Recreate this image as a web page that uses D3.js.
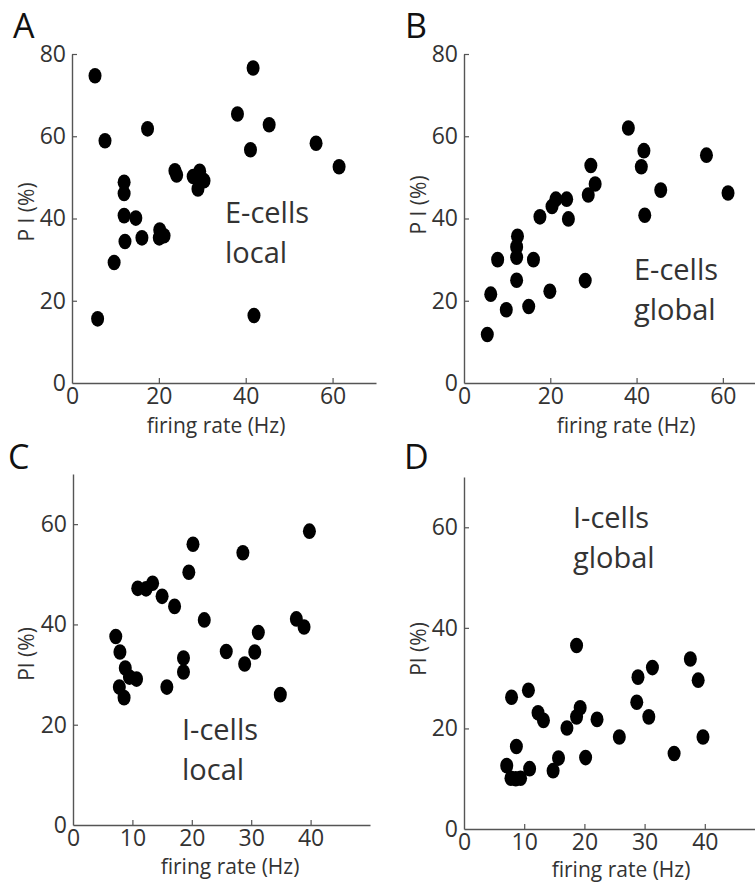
<!DOCTYPE html>
<html>
<head>
<meta charset="utf-8">
<script src="https://cdn.jsdelivr.net/npm/d3@7"></script>
<style>
  body { margin: 0; background: #fff; }
  svg { display: block; font-family: "Open Sans", "Noto Sans", sans-serif; }
</style>
</head>
<body>
<div id="chart"></div>
<script>
// firing rate (Hz), PI (%)
const eCellsLocal = [
    [5.3, 74.7], [7.6, 58.9], [5.9, 15.6], [9.7, 29.3], [12.0, 48.8], [12.0, 46.1],
    [12.0, 40.7], [12.2, 34.4], [14.7, 40.1], [16.1, 35.3], [17.4, 61.8], [20.2, 37.2],
    [20.1, 35.3], [21.2, 35.8], [23.7, 51.6], [24.1, 50.6], [27.9, 50.2], [29.4, 51.5],
    [30.4, 49.2], [29.0, 47.2], [38.1, 65.4], [41.7, 76.6], [41.1, 56.7], [45.4, 62.8],
    [41.9, 16.4], [56.2, 58.3], [61.5, 52.6]
];
const eCellsGlobal = [
    [5.4, 11.8], [6.2, 21.6], [7.8, 30.0], [9.8, 17.8], [12.4, 35.7], [12.2, 33.1],
    [12.2, 30.6], [12.2, 25.0], [15.0, 18.6], [16.1, 30.0], [17.6, 40.4], [19.9, 22.3],
    [20.4, 42.9], [21.3, 44.7], [23.8, 44.7], [24.2, 39.9], [28.1, 24.9], [28.8, 45.7],
    [29.4, 52.9], [30.4, 48.4], [38.1, 62.0], [41.7, 56.5], [41.1, 52.6], [41.9, 40.8],
    [45.6, 46.9], [56.2, 55.4], [61.2, 46.2]
];
const iCellsLocal = [
    [7.2, 37.6], [7.9, 34.5], [8.8, 31.3], [7.8, 27.5], [8.6, 25.4], [9.5, 29.5],
    [10.7, 29.1], [10.9, 47.2], [12.3, 47.1], [13.4, 48.2], [15.0, 45.6], [15.8, 27.5],
    [17.1, 43.6], [18.6, 30.5], [18.6, 33.3], [19.5, 50.4], [20.2, 56.0], [22.1, 40.9],
    [25.8, 34.6], [28.6, 54.3], [28.9, 32.1], [30.6, 34.5], [31.2, 38.4], [34.9, 26.0],
    [37.6, 41.1], [38.9, 39.5], [39.8, 58.6]
];
const iCellsGlobal = [
    [7.9, 26.2], [10.7, 27.6], [8.7, 16.4], [7.1, 12.6], [7.8, 10.1], [9.4, 10.1],
    [8.6, 10.0], [10.9, 12.0], [12.3, 23.1], [13.2, 21.6], [14.8, 11.6], [15.7, 14.1],
    [17.1, 20.1], [18.7, 36.5], [18.7, 22.3], [19.3, 24.1], [20.2, 14.2], [22.1, 21.8],
    [25.8, 18.3], [28.7, 25.2], [28.9, 30.2], [30.7, 22.3], [31.3, 32.1], [34.9, 15.0],
    [37.6, 33.8], [38.9, 29.6], [39.7, 18.3]
];

const eTicksX = [0, 20, 40, 60];
const eTicksY = [0, 20, 40, 60, 80];
const iTicksX = [0, 10, 20, 30, 40];
const iTicksY = [0, 20, 40, 60];

const xTitle = "firing rate (Hz)";

const W = 755, H = 893;
const svg = d3.select("#chart").append("svg")
    .attr("width", W)
    .attr("height", H);

// one entry per panel: plot box in pixels, domains, labels
const panels = [
    { letter: "A", data: eCellsLocal, xDom: [0, 70], yDom: [0, 80], xT: eTicksX, yT: eTicksY,
      box: {l: 72, r: 376, t: 54, b: 383}, yTitle: "P I (%)", lx: 13, ly: 38,
      note: ["E-cells", "local"], nx: 225, ny: 223, yTx: 26, yTy: 212, xTx: 216, xTy: 433 },
    { letter: "B", data: eCellsGlobal, xDom: [0, 70], yDom: [0, 80], xT: eTicksX, yT: eTicksY,
      box: {l: 464, r: 766, t: 54, b: 383}, yTitle: "P I (%)", lx: 405, ly: 38,
      note: ["E-cells", "global"], nx: 634, ny: 280, yTx: 418, yTy: 205, xTx: 626, xTy: 433 },
    { letter: "C", data: iCellsLocal, xDom: [0, 50], yDom: [0, 70], xT: iTicksX, yT: iTicksY,
      box: {l: 73, r: 370, t: 474, b: 825}, yTitle: "PI (%)", lx: 8, ly: 469,
      note: ["I-cells", "local"], nx: 182, ny: 740, yTx: 26, yTy: 654, xTx: 230, xTy: 874 },
    { letter: "D", data: iCellsGlobal, xDom: [0, 50], yDom: [0, 70], xT: iTicksX, yT: iTicksY,
      box: {l: 464, r: 765, t: 477, b: 829}, yTitle: "PI (%)", lx: 404, ly: 469,
      note: ["I-cells", "global"], nx: 573, ny: 528, yTx: 418, yTy: 649, xTx: 621, xTy: 877 }
];

panels.forEach(p => {
    const x = d3.scaleLinear().domain(p.xDom).range([p.box.l, p.box.r]);
    const y = d3.scaleLinear().domain(p.yDom).range([p.box.b, p.box.t]);
    const g = svg.append("g");

    const xAxis = g.append("g")
        .attr("transform", `translate(0,${p.box.b})`)
        .call(d3.axisBottom(x).tickValues(p.xT).tickSizeInner(-5).tickSizeOuter(0).tickPadding(5));
    const yAxis = g.append("g")
        .attr("transform", `translate(${p.box.l},0)`)
        .call(d3.axisLeft(y).tickValues(p.yT).tickSizeInner(-5).tickSizeOuter(0).tickPadding(6));

    [xAxis, yAxis].forEach(a => {
        a.select(".domain").attr("stroke", "#555").attr("stroke-width", 1.4);
        a.selectAll(".tick line").attr("stroke", "#555").attr("stroke-width", 1.2);
        a.selectAll(".tick text")
            .attr("fill", "#333")
            .style("font-size", "23px")
            .style("font-family", "'Open Sans', sans-serif");
    });
    // the zero ticks sit on the other axis, no mark needed
    xAxis.selectAll(".tick").filter(d => d === 0).select("line").remove();
    yAxis.selectAll(".tick").filter(d => d === 0).select("line").remove();

    g.selectAll("ellipse")
        .data(p.data)
        .enter().append("ellipse")
        .attr("cx", d => x(d[0]))
        .attr("cy", d => y(d[1]))
        .attr("rx", 6.5)
        .attr("ry", 7.8)
        .attr("fill", "#000");

    g.append("text")
        .attr("x", p.lx).attr("y", p.ly)
        .attr("fill", "#111")
        .style("font-size", "34px")
        .text(p.letter);

    g.append("text")
        .attr("transform", `translate(${p.yTx + 8},${p.yTy}) rotate(-90)`)
        .attr("text-anchor", "middle")
        .attr("fill", "#333")
        .style("font-size", "21px")
        .text(p.yTitle);

    g.append("text")
        .attr("x", p.xTx)
        .attr("y", p.xTy)
        .attr("text-anchor", "middle")
        .attr("fill", "#333")
        .style("font-size", "21px")
        .text(xTitle);

    p.note.forEach((s, i) => {
        g.append("text")
            .attr("x", p.nx)
            .attr("y", p.ny + i * 40)
            .attr("fill", "#333")
            .style("font-size", "29px")
            .text(s);
    });
});
</script>
</body>
</html>
